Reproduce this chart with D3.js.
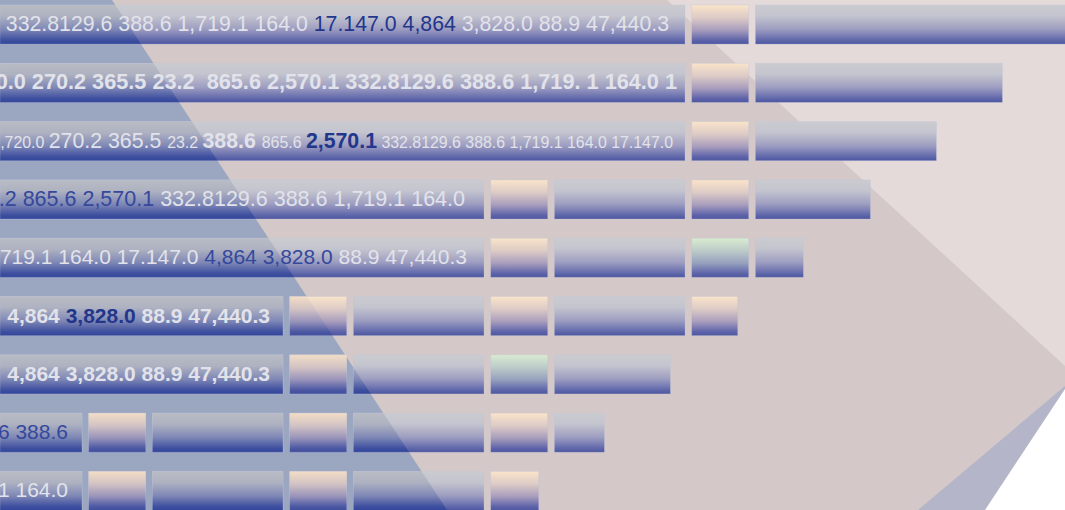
<!DOCTYPE html>
<html>
<head>
<meta charset="utf-8">
<script src="https://cdn.jsdelivr.net/npm/d3@7"></script>
<style>
  html, body { margin: 0; padding: 0; background: #d4c9c8; }
  svg { display: block; }
  text { font-family: "Liberation Sans", Arial, sans-serif; white-space: pre; }
</style>
</head>
<body>
<svg id="chart"></svg>
<script>
const width = 1065;
const height = 510;

// rows, top to bottom
const rowNames = [ 'r1', 'r2', 'r3', 'r4', 'r5', 'r6', 'r7', 'r8', 'r9' ];

// width of the first (labelled) bar of each row
const textBarWidth = [ 685, 685, 685, 484, 484, 283, 283, 82, 82 ];

// following bars: S = peach block, G = green block, L = long bar
const segKinds = [ 'SL', 'SL', 'SL', 'SLSL', 'SLGL', 'SLSLS', 'SLGL', 'SLSLSL', 'SLSLS' ];
const segWidths = [
  [ 57, 320 ],
  [ 57, 247 ],
  [ 57, 181 ],
  [ 57, 130.6, 57, 115 ],
  [ 57, 130.6, 57, 48 ],
  [ 57, 130.6, 57, 130.6, 46 ],
  [ 57, 130.6, 57, 116 ],
  [ 57, 130.6, 57, 130.6, 57, 50 ],
  [ 57, 130.6, 57, 130.6, 48 ]
];
const gap = 6.7;

// label pieces: text, colour (L light, D dark blue, M mid blue), size, weight
const labelSpans = [
  [ [ '332.8129.6 388.6 1,719.1 164.0 ', 'L', 21.3, 400 ], [ '17.147.0 4,864', 'D', 21.3, 400 ], [ ' 3,828.0 88.9 47,440.3', 'L', 21.3, 400 ] ],
  [ [ '1,720.0 270.2 365.5 23.2  865.6 2,570.1 332.8129.6 388.6 1,719. 1 164.0 1', 'L', 21.7, 700 ] ],
  [ [ '1,720.0 ', 'L', 15.9, 400 ], [ '270.2 365.5 ', 'L', 21.3, 400 ], [ '23.2 ', 'L', 15.9, 400 ], [ '388.6 ', 'L', 21.3, 700 ],
    [ '865.6 ', 'L', 15.9, 400 ], [ '2,570.1', 'D', 21.3, 700 ], [ ' 332.8129.6 388.6 1,719.1 164.0 17.147.0', 'L', 15.9, 400 ] ],
  [ [ '23.2 865.6 2,570.1', 'M', 21.5, 400 ], [ ' 332.8129.6 388.6 1,719.1 164.0', 'L', 21.5, 400 ] ],
  [ [ '1,719.1 164.0 17.147.0 ', 'L', 21, 400 ], [ '4,864 3,828.0', 'M', 21, 400 ], [ ' 88.9 47,440.3', 'L', 21, 400 ] ],
  [ [ '4,864 ', 'L', 21, 700 ], [ '3,828.0', 'D', 21, 700 ], [ ' 88.9 47,440.3', 'L', 21, 700 ] ],
  [ [ '4,864 3,828.0 88.9 47,440.3', 'L', 21, 700 ] ],
  [ [ '332.8129.6 388.6', 'M', 21, 400 ] ],
  [ [ '1,719.1 164.0', 'L', 21, 400 ] ]
];
const labelPad = [ 16, 8, 12, 19, 17, 13, 13, 14, 14 ];

const textColors = { L : '#e2e3ea', D : '#22368c', M : '#34489c' };

let svg = d3.select( '#chart' ).attr( 'width', width ).attr( 'height', height );

let x = d3.scaleLinear().domain( [ 0, width ] ).range( [ 0, width ] );
let y = d3.scaleBand().domain( rowNames ).range( [ 5, 510.5 ] ).paddingInner( 0.33 ).paddingOuter( 0 );

// ---- gradients
let defs = svg.append( 'defs' );
function grad( id, stops ) {
  let g = defs.append( 'linearGradient' ).attr( 'id', id )
    .attr( 'x1', 0 ).attr( 'y1', 0 ).attr( 'x2', 0 ).attr( 'y2', 1 );
  stops.forEach( function( s ) {
    g.append( 'stop' ).attr( 'offset', s[ 0 ] ).attr( 'stop-color', s[ 1 ] );
  } );
}
grad( 'longN', [ [ '0%', '#cbccd1' ], [ '28%', '#c3c4ce' ], [ '62%', '#9d9dc1' ], [ '90%', '#6068ab' ], [ '100%', '#4c56a0' ] ] );
grad( 'longD', [ [ '0%', '#b9bcc4' ], [ '28%', '#aeb2c1' ], [ '62%', '#7f88b6' ], [ '90%', '#3e4f9f' ], [ '100%', '#32469a' ] ] );
grad( 'peachN', [ [ '0%', '#fae4ca' ], [ '32%', '#ddcbc6' ], [ '64%', '#a89dbd' ], [ '90%', '#5e63a9' ], [ '100%', '#4e57a0' ] ] );
grad( 'peachD', [ [ '0%', '#f3ddc6' ], [ '32%', '#d2c3c4' ], [ '64%', '#9893ba' ], [ '90%', '#4c58a3' ], [ '100%', '#3f4e9c' ] ] );
grad( 'greenN', [ [ '0%', '#d9ebd0' ], [ '32%', '#bdcbc9' ], [ '64%', '#95a0bd' ], [ '90%', '#5e65a9' ], [ '100%', '#4e57a0' ] ] );
grad( 'greenD', [ [ '0%', '#cfe2cb' ], [ '32%', '#b0c0c6' ], [ '64%', '#8591b8' ], [ '90%', '#4c58a3' ], [ '100%', '#3f4e9c' ] ] );

// ---- background planes
const bluePlane = [ [ 0, 0 ], [ 112, 0 ], [ 447, 510 ], [ 0, 510 ] ];
const lightPlane = [ [ 667, 0 ], [ 1065, 0 ], [ 1065, 366 ] ];
const slatePlane = [ [ 1065, 386 ], [ 1065, 510 ], [ 918, 510 ] ];
const whitePlane = [ [ 1065, 389 ], [ 1065, 510 ], [ 985, 510 ] ];

let line = d3.line();
svg.append( 'rect' ).attr( 'width', width ).attr( 'height', height ).attr( 'fill', '#d4c9c8' );
svg.append( 'path' ).attr( 'd', line( lightPlane ) + 'Z' ).attr( 'fill', '#e3dad9' );
svg.append( 'path' ).attr( 'd', line( slatePlane ) + 'Z' ).attr( 'fill', '#b4b5c9' );
svg.append( 'path' ).attr( 'd', line( whitePlane ) + 'Z' ).attr( 'fill', '#ffffff' );
svg.append( 'path' ).attr( 'd', line( bluePlane ) + 'Z' ).attr( 'fill', '#9ba7c1' );

defs.append( 'clipPath' ).attr( 'id', 'blueClip' )
  .append( 'path' ).attr( 'd', line( bluePlane ) + 'Z' );

// ---- build bar list
let bars = [];
rowNames.forEach( function( r, i ) {
  bars.push( { row : r, x0 : 0, x1 : textBarWidth[ i ], kind : 'T' } );
  let pos = textBarWidth[ i ];
  segWidths[ i ].forEach( function( w, j ) {
    pos += gap;
    bars.push( { row : r, x0 : pos, x1 : pos + w, kind : segKinds[ i ][ j ] } );
    pos += w;
  } );
} );

function fillFor( kind, deep ) {
  let base = ( kind === 'S' ) ? 'peach' : ( kind === 'G' ) ? 'green' : 'long';
  return 'url(#' + base + ( deep ? 'D' : 'N' ) + ')';
}

function drawBars( layer, deep ) {
  layer.selectAll( 'rect' )
    .data( bars )
    .enter().append( 'rect' )
    .attr( 'x', function( d ) { return x( d.x0 ); } )
    .attr( 'y', function( d ) { return y( d.row ); } )
    .attr( 'width', function( d ) { return x( d.x1 ) - x( d.x0 ); } )
    .attr( 'height', y.bandwidth() )
    .attr( 'fill', function( d ) { return fillFor( d.kind, deep ); } )
    .attr( 'stroke', 'rgba(190,195,220,0.35)' )
    .attr( 'stroke-width', 0.8 );
}

drawBars( svg.append( 'g' ), false );
drawBars( svg.append( 'g' ).attr( 'clip-path', 'url(#blueClip)' ), true );

// ---- labels, clipped to their own bar
rowNames.forEach( function( r, i ) {
  defs.append( 'clipPath' ).attr( 'id', 'lab' + i )
    .append( 'rect' )
    .attr( 'x', 0 ).attr( 'y', y( r ) )
    .attr( 'width', x( textBarWidth[ i ] ) ).attr( 'height', y.bandwidth() );

  let t = svg.append( 'text' )
    .attr( 'clip-path', 'url(#lab' + i + ')' )
    .attr( 'x', x( textBarWidth[ i ] - labelPad[ i ] ) )
    .attr( 'y', y( r ) + 26 )
    .attr( 'text-anchor', 'end' );

  t.selectAll( 'tspan' )
    .data( labelSpans[ i ] )
    .enter().append( 'tspan' )
    .text( function( d ) { return d[ 0 ]; } )
    .attr( 'fill', function( d ) { return textColors[ d[ 1 ] ]; } )
    .attr( 'font-size', function( d ) { return d[ 2 ]; } )
    .attr( 'font-weight', function( d ) { return d[ 3 ]; } );
} );
</script>
</body>
</html>
